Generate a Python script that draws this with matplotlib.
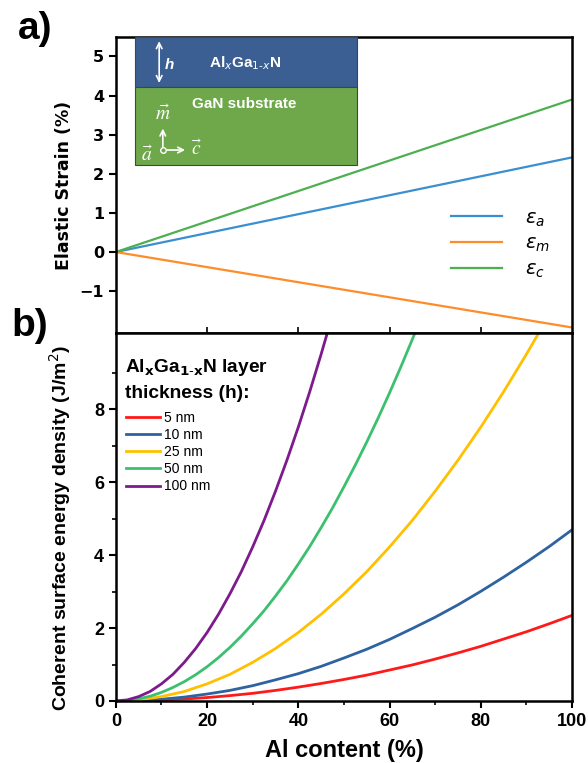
import numpy as np
import matplotlib.pyplot as plt
from matplotlib.patches import Rectangle

plt.rcParams['font.family'] = ['Liberation Sans', 'DejaVu Sans']
plt.rcParams['mathtext.fontset'] = 'dejavusans'

# %% data -----

# a) elastic strain vs Al content
strain_x = [0, 100]
strain_a = [0, 2.42]
strain_m = [0, -1.93]
strain_c = [0, 3.90]

# b) coherent surface energy density (J/m^2)
al_x = [0, 5, 10, 15, 20, 25, 30, 35, 40, 45, 50, 55, 60, 65, 70, 75, 80, 85, 90, 95, 100]
al_x_fine = [0, 2.5, 5, 7.5, 10, 12.5, 15, 17.5, 20, 22.5, 25, 27.5, 30, 32.5, 35,
             37.5, 40, 42.5, 45, 47.5, 50, 52.5, 55, 57.5, 60, 62.5, 65, 67.5]
e_5nm = [0, 0.006, 0.024, 0.053, 0.094, 0.147, 0.21, 0.29, 0.38, 0.48, 0.59,
         0.71, 0.85, 0.99, 1.15, 1.32, 1.50, 1.70, 1.90, 2.12, 2.35]
e_10nm = [0, 0.012, 0.047, 0.106, 0.19, 0.29, 0.42, 0.58, 0.75, 0.95, 1.18,
          1.42, 1.69, 1.99, 2.30, 2.64, 3.01, 3.40, 3.81, 4.24, 4.70]
e_25nm = [0, 0.03, 0.12, 0.26, 0.47, 0.73, 1.06, 1.44, 1.88, 2.38, 2.94,
          3.55, 4.23, 4.96, 5.76, 6.61, 7.52, 8.49, 9.52, 10.60]
e_50nm = [0, 0.015, 0.06, 0.13, 0.235, 0.37, 0.53, 0.72, 0.94, 1.19, 1.47, 1.78,
          2.12, 2.48, 2.88, 3.30, 3.76, 4.24, 4.76, 5.30, 5.88, 6.48, 7.11, 7.77,
          8.46, 9.18, 9.93, 10.71]
e_100nm = [0, 0.03, 0.12, 0.26, 0.47, 0.73, 1.06, 1.44, 1.88, 2.38, 2.94,
           3.55, 4.23, 4.96, 5.76, 6.61, 7.52, 8.49, 9.52, 10.60]

thick_labels = ['5 nm', '10 nm', '25 nm', '50 nm', '100 nm']
thick_colors = ['#ff1a1a', '#2e62a0', '#ffc000', '#3cc070', '#7d1b8c']

# %% plot -----

fig = plt.figure(figsize=(5.88, 7.63), dpi=100)
ax1 = fig.add_axes([0.197, 0.5636, 0.776, 0.388])
ax2 = fig.add_axes([0.197, 0.0813, 0.776, 0.4823])

for ax in (ax1, ax2):
    for sp in ax.spines.values():
        sp.set_linewidth(1.8)

# top panel
ax1.plot(strain_x, strain_a, color='#3a8fd0', lw=1.6, label=r'$\varepsilon_a$')
ax1.plot(strain_x, strain_m, color='#ff8c2a', lw=1.6, label=r'$\varepsilon_m$')
ax1.plot(strain_x, strain_c, color='#4caf50', lw=1.6, label=r'$\varepsilon_c$')
ax1.set_xlim(0, 100)
ax1.set_ylim(-2.07, 5.5)
ax1.set_yticks([-1, 0, 1, 2, 3, 4, 5])
ax1.set_xticks([20, 40, 60, 80])
ax1.tick_params(axis='x', direction='in', labelbottom=False, length=4, width=1.2)
ax1.tick_params(axis='y', length=5, width=1.5, labelsize=11.5)
for t in ax1.get_yticklabels():
    t.set_fontweight('bold')
    t.set_family('DejaVu Sans')
ax1.set_ylabel('Elastic Strain (%)', fontsize=12.5, fontweight='bold', family='DejaVu Sans')
ax1.yaxis.set_label_coords(-0.094, 0.5)
ax1.legend(loc='lower right', bbox_to_anchor=(0.99, 0.12), frameon=False,
           fontsize=14, handlelength=2.6, labelspacing=0.35, handletextpad=1.2)

# inset sketch
ax1.add_patch(Rectangle((0.042, 0.83), 0.486, 0.17, transform=ax1.transAxes,
                        facecolor='#3b5f93', edgecolor='#444444', lw=0.8, zorder=5))
ax1.add_patch(Rectangle((0.042, 0.568), 0.486, 0.262, transform=ax1.transAxes,
                        facecolor='#6ea84a', edgecolor='#444444', lw=0.8, zorder=5))
ax1.annotate('', xy=(0.095, 0.995), xytext=(0.095, 0.835), xycoords='axes fraction',
             arrowprops=dict(arrowstyle='<->', color='white', lw=1.2), zorder=6)
ax1.text(0.108, 0.905, 'h', transform=ax1.transAxes, color='white', fontsize=11,
         fontweight='bold', style='italic', zorder=6, va='center')
ax1.text(0.283, 0.91, r'Al$_x$Ga$_{1\text{-}x}$N', transform=ax1.transAxes, color='white',
         fontsize=11, fontweight='bold', ha='center', va='center', zorder=6)
ax1.text(0.168, 0.775, 'GaN substrate', transform=ax1.transAxes, color='white',
         fontsize=11, fontweight='bold', va='center', zorder=6)
ax1.text(0.103, 0.74, r'$\vec{m}$', transform=ax1.transAxes, color='white',
         fontsize=14, ha='center', va='center', zorder=6, math_fontfamily='stix')
ax1.annotate('', xy=(0.103, 0.7), xytext=(0.103, 0.618), xycoords='axes fraction',
             arrowprops=dict(arrowstyle='->', color='white', lw=1.2), zorder=6)
ax1.annotate('', xy=(0.158, 0.618), xytext=(0.103, 0.618), xycoords='axes fraction',
             arrowprops=dict(arrowstyle='->', color='white', lw=1.2), zorder=6)
ax1.plot([0.103], [0.618], 'o', mfc='#6ea84a', mec='white', ms=4, transform=ax1.transAxes,
         zorder=7)
ax1.text(0.068, 0.6, r'$\vec{a}$', transform=ax1.transAxes, color='white',
         fontsize=14, ha='center', va='center', zorder=6, math_fontfamily='stix')
ax1.text(0.178, 0.62, r'$\vec{c}$', transform=ax1.transAxes, color='white',
         fontsize=14, ha='center', va='center', zorder=6, math_fontfamily='stix')

# bottom panel
series = [e_5nm, e_10nm, e_25nm, e_50nm, e_100nm]
xs = [al_x, al_x, al_x, al_x_fine, al_x_fine]
for x, vals, lab, col in zip(xs, series, thick_labels, thick_colors):
    ax2.plot(x[:len(vals)], vals, color=col, lw=2.0, label=lab)
ax2.set_xlim(0, 100)
ax2.set_ylim(0, 10.1)
ax2.set_xticks([0, 20, 40, 60, 80, 100])
ax2.set_xticks([10, 30, 50, 70, 90], minor=True)
ax2.set_yticks([0, 2, 4, 6, 8])
ax2.set_yticks([1, 3, 5, 7, 9], minor=True)
ax2.tick_params(which='major', length=5, width=1.5, labelsize=13)
ax2.tick_params(which='minor', length=3, width=1.2)
for t in ax2.get_xticklabels() + ax2.get_yticklabels():
    t.set_fontweight('bold')
ax2.set_xlabel('Al content (%)', fontsize=17, fontweight='bold', labelpad=7)
ax2.set_ylabel('Coherent surface energy density (J/m$^2$)', fontsize=14, fontweight='bold')
ax2.yaxis.set_label_coords(-0.094, 0.47)
ax2.text(0.02, 0.935, 'Al$_\\mathbf{x}$Ga$_\\mathbf{1\\text{-}x}$N layer\nthickness (h):',
         transform=ax2.transAxes, fontsize=13.8, fontweight='bold', va='top',
         linespacing=1.55)
ax2.legend(loc='upper left', bbox_to_anchor=(0.0, 0.814), frameon=False,
           fontsize=10, handlelength=2.45, labelspacing=0.22, handletextpad=0.35,
           borderaxespad=0.3)

fig.text(0.03, 0.985, 'a)', fontsize=28, fontweight='bold', va='top')
fig.text(0.02, 0.596, 'b)', fontsize=28, fontweight='bold', va='top')

plt.savefig('out.png', dpi=100)
